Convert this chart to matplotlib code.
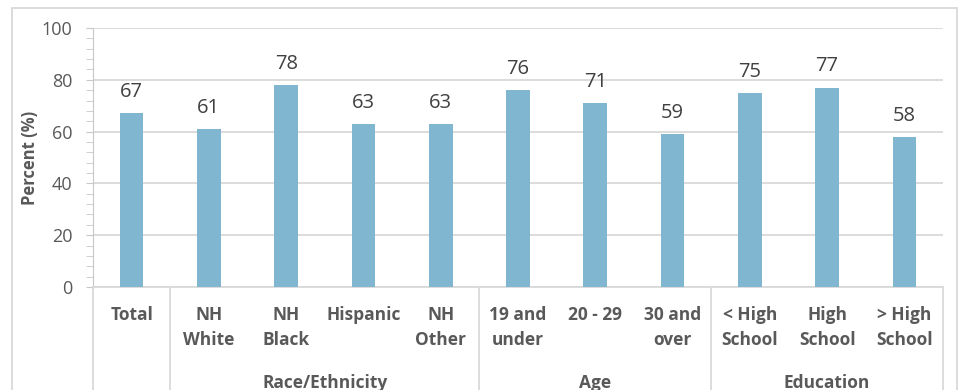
import matplotlib.pyplot as plt
import matplotlib.patches as patches
import matplotlib.transforms as transforms
from matplotlib.ticker import MultipleLocator
import numpy as np

# data
categories = ['Total', 'NH\nWhite', 'NH\nBlack', 'Hispanic', 'NH\nOther',
              '19 and\nunder', '20 - 29', '30 and\nover',
              '< High\nSchool', 'High\nSchool', '> High\nSchool']
values = [67, 61, 78, 63, 63, 76, 71, 59, 75, 77, 58]
groups = ['Race/Ethnicity', 'Age', 'Education']
group_spans = [(1, 4), (5, 7), (8, 10)]  # first and last category index in each group

bar_color = '#80B6CF'
grid_color = '#D9D9D9'
text_color = '#595959'

plt.rcParams['font.family'] = ['Open Sans', 'DejaVu Sans']

fig = plt.figure(figsize=(9.58, 3.90), dpi=100)
ax = fig.add_axes([93 / 958, 1 - 287 / 390, 850 / 958, 259 / 390])

x = np.arange(len(categories))
ax.bar(x, values, width=0.305, color=bar_color, zorder=3)

for xi, v in zip(x, values):
    ax.annotate(str(v), (xi, v), xytext=(0, 8), textcoords='offset points',
                ha='center', va='bottom', fontsize=14.5, color='#404040')

ax.set_xlim(-0.5, len(categories) - 0.5)
ax.set_ylim(0, 100)
ax.yaxis.set_major_locator(MultipleLocator(20))
ax.yaxis.set_minor_locator(MultipleLocator(4))
ax.grid(axis='y', color=grid_color, linewidth=1.3, zorder=0)
ax.tick_params(axis='y', which='both', direction='out', color='#C8C8C8',
               labelsize=13, labelcolor=text_color, pad=10, length=5)
ax.set_xticks([])

for side in ['top', 'right']:
    ax.spines[side].set_visible(False)
ax.spines['left'].set_color('#C8C8C8')
ax.spines['bottom'].set_color(grid_color)
ax.spines['bottom'].set_linewidth(1.3)

ax.set_ylabel('Percent (%)', fontsize=12, fontweight='bold', color=text_color, labelpad=2)

# category labels under the axis
trans = transforms.blended_transform_factory(ax.transData, ax.transAxes)
for xi, lab in zip(x, categories):
    ax.text(xi, -0.075, lab, transform=trans, ha='center', va='top',
            fontsize=12.5, fontweight='bold', color=text_color, linespacing=1.5)

# group labels
for name, (a, b) in zip(groups, group_spans):
    ax.text((a + b) / 2, -0.335, name, transform=trans, ha='center', va='top',
            fontsize=12.5, fontweight='bold', color=text_color)

# separators between groups
for sep in [-0.5, 0.5, 4.5, 7.5, 10.5]:
    ax.plot([sep, sep], [0, -0.45], transform=trans, color=grid_color,
            linewidth=1.3, clip_on=False)

# chart border
fig.patches.append(patches.Rectangle((12 / 958, -0.1), 945 / 958, 1 - 8 / 390 + 0.1,
                                     transform=fig.transFigure, fill=False,
                                     edgecolor=grid_color, linewidth=1.3))

fig.savefig('out.png', dpi=100)
